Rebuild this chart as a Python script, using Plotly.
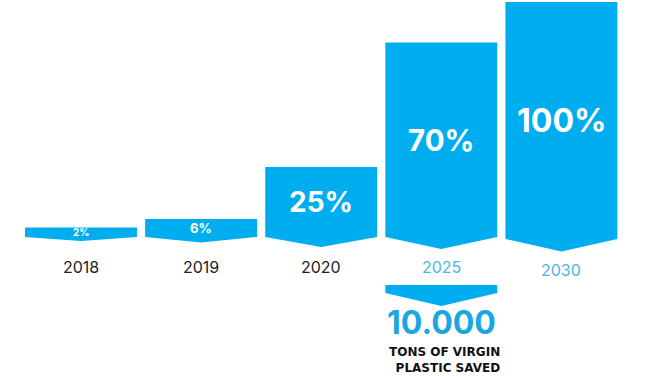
import plotly.graph_objects as go

# ---- data ----
years = ["2018", "2019", "2020", "2025", "2030"]
share_labels = ["2%", "6%", "25%", "70%", "100%"]
bar_heights = [9.5, 18, 70, 194.5, 237]        # drawn heights of the chevron bars
is_target = [False, False, False, True, True]
saved_value = "10.000"
saved_caption = ["TONS OF VIRGIN", "PLASTIC SAVED"]
saved_year_index = 3

# ---- styling ----
BLUE = "#00aeef"
TARGET_TXT = "#4db6e2"
PAST_TXT = "#222222"
HALF_W = 0.466
notch = [4, 5.5, 10, 12, 12.5]
base_shift = [0, 0, 0, 0, -2]
label_sizes = [10, 13, 28, 29.5, 32]
FONT = "Inter"

fig = go.Figure()

def chevron(xc, top, bottom, depth):
    xs = [xc - HALF_W, xc + HALF_W, xc + HALF_W, xc, xc - HALF_W, xc - HALF_W]
    ys = [top, top, bottom, bottom - depth, bottom, top]
    return xs, ys

for i, (yr, lab, h) in enumerate(zip(years, share_labels, bar_heights)):
    b = base_shift[i]
    xs, ys = chevron(i, h + b, b, notch[i])
    fig.add_trace(go.Scatter(x=xs, y=ys, fill="toself", fillcolor=BLUE,
                             mode="lines", line=dict(width=0, color=BLUE),
                             hoverinfo="skip", showlegend=False))
    fig.add_annotation(x=i, y=h / 2 + b, text=f"<b>{lab}</b>", showarrow=False,
                       font=dict(family=FONT, size=label_sizes[i], color="white"),
                       yanchor="middle")
    fig.add_annotation(x=i, y=-30 + 1.5 * b, text=yr, showarrow=False,
                       font=dict(family=FONT, size=16,
                                 color=TARGET_TXT if is_target[i] else PAST_TXT),
                       yanchor="middle")

# chevron under 2025 with saved plastic
xs, ys = chevron(saved_year_index, -48, -56, 13)
fig.add_trace(go.Scatter(x=xs, y=ys, fill="toself", fillcolor=BLUE,
                         mode="lines", line=dict(width=0, color=BLUE),
                         hoverinfo="skip", showlegend=False))
fig.add_annotation(x=saved_year_index, y=-85.5, text=f"<b>{saved_value}</b>", showarrow=False,
                   borderpad=0,
                   font=dict(family=FONT, size=32, color="#1aa7e0"), yanchor="middle")
fig.add_annotation(x=saved_year_index + 0.03, y=-122.5,
                   text="<br>".join(f"<b>{t}</b>" for t in saved_caption),
                   showarrow=False, align="right", borderpad=0,
                   font=dict(family="DejaVu Sans", size=12, color="#111111"),
                   yanchor="middle")

fig.update_layout(
    width=651, height=376,
    margin=dict(l=0, r=0, t=0, b=0),
    paper_bgcolor="white", plot_bgcolor="white",
    xaxis=dict(range=[-0.6744, 4.746], visible=False, fixedrange=True),
    yaxis=dict(range=[-139, 237], visible=False, fixedrange=True),
)

fig.write_html("out.html", config=dict(displayModeBar=False),
               post_script="document.body.style.margin='0';document.body.style.overflow='hidden';")
